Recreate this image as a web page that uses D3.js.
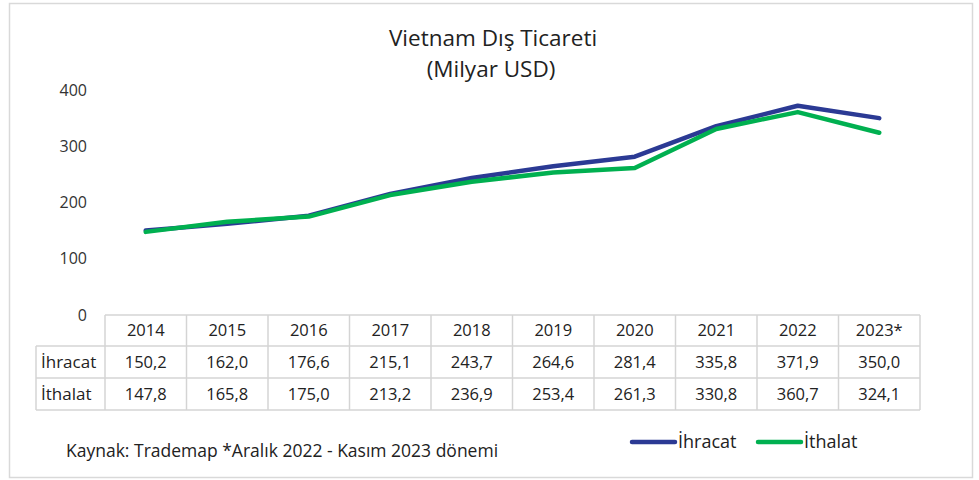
<!DOCTYPE html>
<html><head><meta charset="utf-8">
<script src="https://cdn.jsdelivr.net/npm/d3@7"></script>
<style>body{margin:0;background:#fff}svg{display:block;font-family:"Open Sans",Lato,sans-serif}</style>
</head><body><svg id="c" width="979" height="480"></svg>
<script>
const years = ["2014","2015","2016","2017","2018","2019","2020","2021","2022","2023*"];
const ihracat = [150.2,162.0,176.6,215.1,243.7,264.6,281.4,335.8,371.9,350.0];
const ithalat = [147.8,165.8,175.0,213.2,236.9,253.4,261.3,330.8,360.7,324.1];
const seriesNames = ["İhracat","İthalat"];
const colors = ["#2b3a94","#00b050"];
const yTicks = [0,100,200,300,400];

const svg = d3.select("#c");
svg.append("rect").attr("x",9.5).attr("y",3.5).attr("width",963).attr("height",474)
  .attr("fill","#fff").attr("stroke","#d9d9d9").attr("stroke-width",1.5);

const x = d3.scaleBand().domain(years).range([105,920]);
const y = d3.scaleLinear().domain([0,400]).range([315,90]);

// title
svg.append("text").attr("x",493).attr("y",46).attr("text-anchor","middle")
  .attr("font-size",22.5).attr("fill","#222").text("Vietnam Dış Ticareti");
svg.append("text").attr("x",491).attr("y",77).attr("text-anchor","middle")
  .attr("font-size",22.5).attr("fill","#222").text("(Milyar USD)");

// y axis labels
const yAxis = d3.axisLeft(y).tickValues(yTicks).tickSize(0).tickPadding(0).tickFormat(d3.format("d"));
const ga = svg.append("g").attr("transform","translate(87,0)").call(yAxis);
ga.select(".domain").remove();
ga.selectAll("text").attr("font-size",16).attr("fill","#333").attr("font-family","'Open Sans',Lato,sans-serif");

// lines
const series = [ihracat, ithalat];
const line = d3.line().x((d,i)=>x(years[i])+x.bandwidth()/2).y(d=>y(d));
series.forEach((s,k)=>{
  svg.append("path").datum(s).attr("d",line).attr("fill","none")
    .attr("stroke",colors[k]).attr("stroke-width",4.5)
    .attr("stroke-linecap","round").attr("stroke-linejoin","round");
});

// data table
const tb = svg.append("g");
const rows = [315,346,378,410];
const gridC = "#d4d4d4";
tb.append("line").attr("x1",105).attr("x2",920).attr("y1",rows[0]).attr("y2",rows[0]).attr("stroke",gridC).attr("stroke-width",1.5);
[1,2,3].forEach(i=>tb.append("line").attr("x1",36).attr("x2",920).attr("y1",rows[i]).attr("y2",rows[i]).attr("stroke",gridC).attr("stroke-width",1.5));
tb.append("line").attr("x1",36).attr("x2",36).attr("y1",rows[1]).attr("y2",rows[3]).attr("stroke",gridC).attr("stroke-width",1.5);
years.forEach(yr=>tb.append("line").attr("x1",x(yr)).attr("x2",x(yr)).attr("y1",rows[0]).attr("y2",rows[3]).attr("stroke",gridC).attr("stroke-width",1.5));
tb.append("line").attr("x1",920).attr("x2",920).attr("y1",rows[0]).attr("y2",rows[3]).attr("stroke",gridC).attr("stroke-width",1.5);

const fmt = v => v.toFixed(1).replace(".",",");
years.forEach((yr,i)=>{
  const cx = x(yr)+x.bandwidth()/2;
  tb.append("text").attr("x",cx).attr("y",336).attr("text-anchor","middle").attr("font-size",16.5).attr("fill","#222").text(yr);
  tb.append("text").attr("x",cx).attr("y",368).attr("text-anchor","middle").attr("font-size",16.5).attr("fill","#222").text(fmt(ihracat[i]));
  tb.append("text").attr("x",cx).attr("y",400).attr("text-anchor","middle").attr("font-size",16.5).attr("fill","#222").text(fmt(ithalat[i]));
});
tb.append("text").attr("x",41).attr("y",368).attr("font-size",17).attr("fill","#222").text(seriesNames[0]);
tb.append("text").attr("x",41).attr("y",400).attr("font-size",17).attr("fill","#222").text(seriesNames[1]);

// footnote
svg.append("text").attr("x",66).attr("y",457).attr("font-size",17.5).attr("fill","#222")
  .text("Kaynak: Trademap *Aralık 2022 - Kasım 2023 dönemi");

// legend
const legX = [630,756];
seriesNames.forEach((n,k)=>{
  svg.append("line").attr("x1",legX[k]+2).attr("x2",legX[k]+45).attr("y1",442).attr("y2",442)
    .attr("stroke",colors[k]).attr("stroke-width",4.5).attr("stroke-linecap","round");
  svg.append("text").attr("x",legX[k]+48).attr("y",448).attr("font-size",18).attr("fill","#222").text(n);
});
</script></body></html>
